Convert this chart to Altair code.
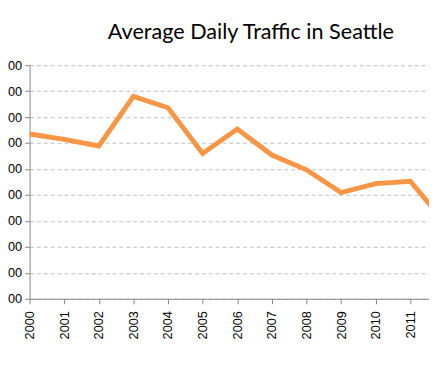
import altair as alt
import pandas as pd

years = [2000, 2001, 2002, 2003, 2004, 2005, 2006, 2007, 2008, 2009, 2010, 2011, 2012]
traffic = [46350, 46140, 45890, 47800, 47360, 45600, 46540, 45540, 44970, 44090, 44440, 44530, 42930]
x_tick_years = years[:12]
y_ticks = [40000, 41000, 42000, 43000, 44000, 45000, 46000, 47000, 48000, 49000]

df = pd.DataFrame({"year": years, "traffic": traffic})

chart = alt.Chart(df).mark_line(
    color="#F79646", strokeWidth=5, clip=False
).encode(
    x=alt.X(
        "year:Q",
        scale=alt.Scale(domain=[2000, 2011.54], nice=False, zero=False),
        axis=alt.Axis(
            values=x_tick_years, format="d", labelAngle=270, grid=False, title=None,
            tickSize=5, tickColor="#868686", domainColor="#868686",
            labelFont="Liberation Sans", labelFontSize=13, labelColor="#000000",
            labelPadding=7, labelFlush=False,
        ),
    ),
    y=alt.Y(
        "traffic:Q",
        scale=alt.Scale(domain=[40000, 49000], nice=False, zero=False),
        axis=alt.Axis(
            values=y_ticks, format="d", grid=True, gridDash=[4, 3], gridColor="#c0c0c0",
            title=None, tickSize=5, tickColor="#868686", domainColor="#868686",
            labelFont="Liberation Sans", labelFontSize=13, labelColor="#000000",
            labelPadding=3, labelFlush=False,
        ),
    ),
).properties(
    width=407,
    height=238,
    autosize=alt.AutoSizeParams(type="none"),
    padding={"left": 22, "top": 55, "right": 0, "bottom": 56},
    title=alt.Title(
        "Average Daily Traffic in Seattle", font="Lato", fontSize=22,
        fontWeight="normal", color="#000000", anchor="middle", frame="group",
        dx=22, offset=16,
    ),
).configure_view(stroke=None)

chart.save("out.html", embed_options={"renderer": "svg", "actions": False})
